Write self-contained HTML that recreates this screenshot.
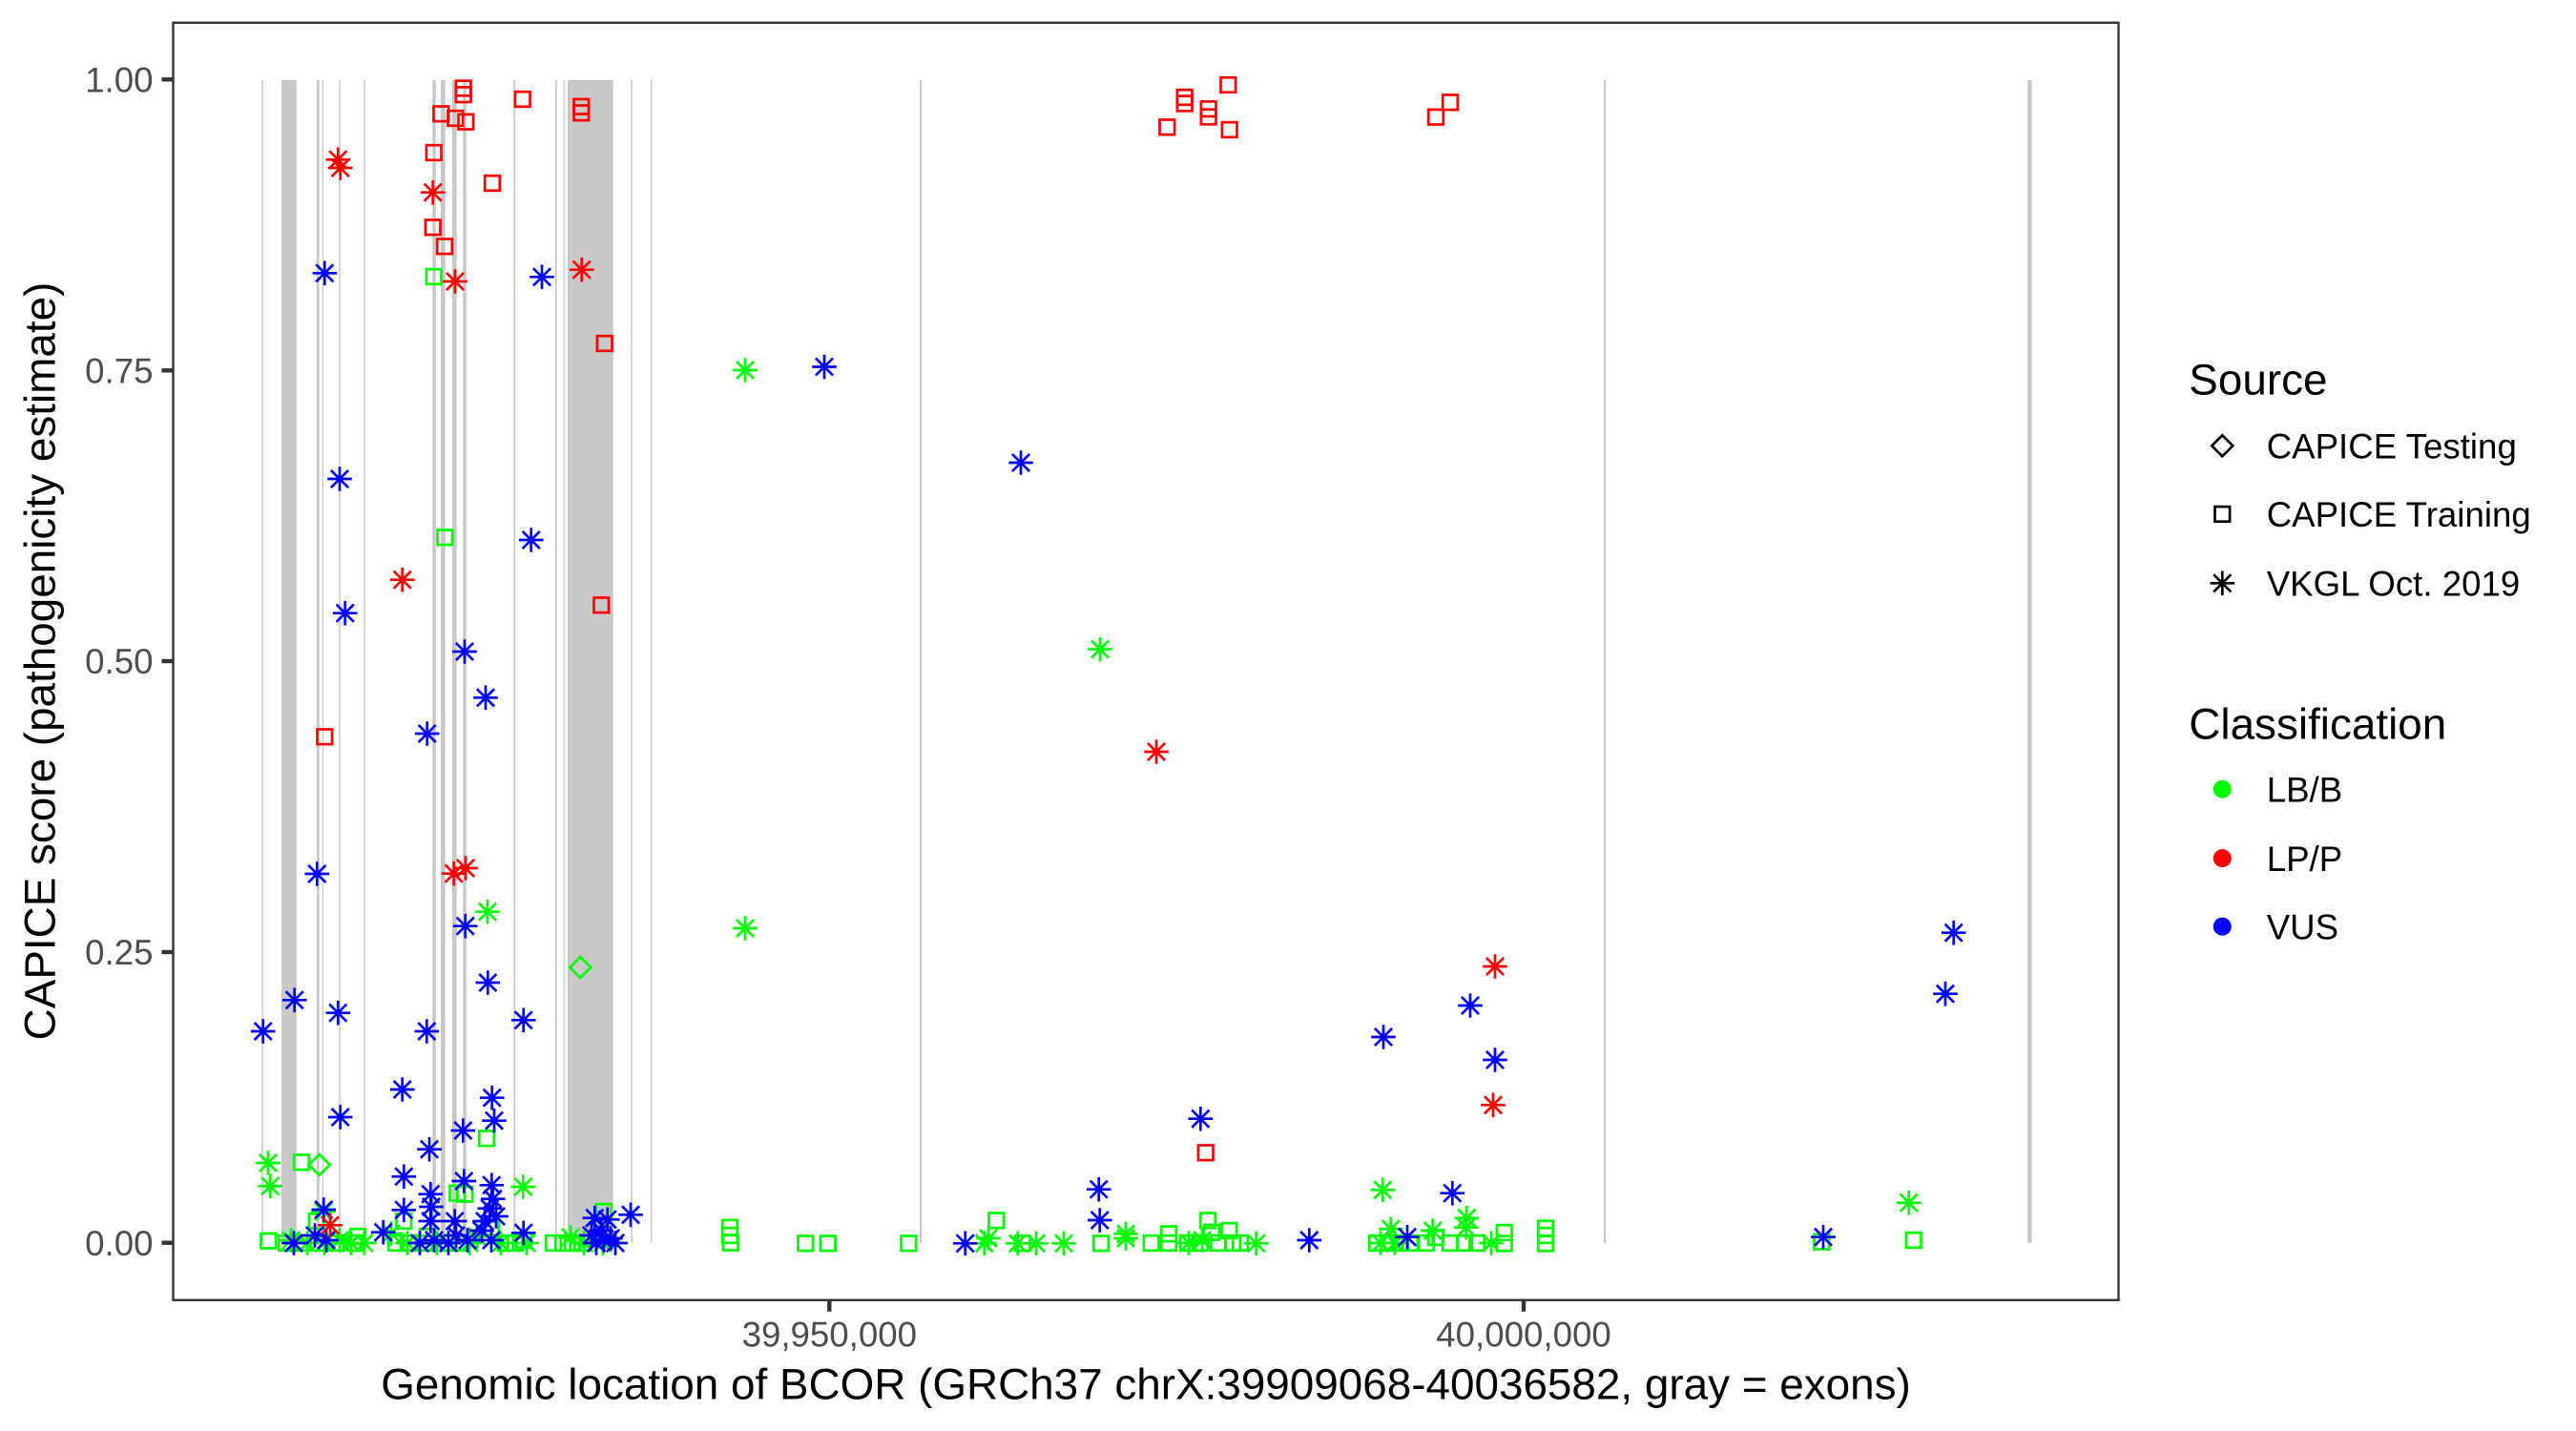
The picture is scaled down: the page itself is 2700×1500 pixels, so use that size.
<!DOCTYPE html>
<html>
<head>
<meta charset="utf-8">
<style>
html,body{margin:0;padding:0;background:#fff;}
svg{display:block;}
text{font-family:"Liberation Sans",Arial,sans-serif;}
</style>
</head>
<body>
<svg width="2700" height="1500" viewBox="0 0 2700 1500" xmlns="http://www.w3.org/2000/svg">
<defs>
<path id="a" d="M-12.8 0H12.8M0 -12.8V12.8M-9.1 -9.1L9.1 9.1M-9.1 9.1L9.1 -9.1" fill="none" stroke-width="2.7"/>
<rect id="s" x="-7.8" y="-7.8" width="15.6" height="15.6" fill="none" stroke-width="2.7"/>
<path id="d" d="M0 -11L11 0L0 11L-11 0Z" fill="none" stroke-width="2.7"/>
</defs>
<rect x="0" y="0" width="2700" height="1500" fill="#fff"/>

<!-- exons -->
<g fill="#C8C8C8">
<rect x="274.3" y="84" width="1.6" height="1218.7"/>
<rect x="295" y="84" width="15.7" height="1218.7"/>
<rect x="332" y="84" width="2.7" height="1218.7"/>
<rect x="337.7" y="84" width="1.2" height="1218.7"/>
<rect x="355.3" y="84" width="1.5" height="1218.7"/>
<rect x="381.3" y="84" width="1.5" height="1218.7"/>
<rect x="453.3" y="84" width="3.4" height="1218.7"/>
<rect x="462" y="84" width="4.7" height="1218.7"/>
<rect x="474" y="84" width="4.7" height="1218.7"/>
<rect x="485.3" y="84" width="3.4" height="1218.7"/>
<rect x="538.3" y="84" width="1.7" height="1218.7"/>
<rect x="582" y="84" width="1.7" height="1218.7"/>
<rect x="590.7" y="84" width="1.1" height="1218.7"/>
<rect x="595" y="84" width="47.7" height="1218.7"/>
<rect x="661.3" y="84" width="1.6" height="1218.7"/>
<rect x="682" y="84" width="1.4" height="1218.7"/>
<rect x="964" y="84" width="2" height="1218.7"/>
<rect x="1681" y="84" width="2" height="1218.7"/>
<rect x="2125.2" y="84" width="4.5" height="1218.7"/>
</g>

<!-- green squares -->
<g stroke="#00FF00">
<use href="#s" x="454.7" y="290"/><use href="#s" x="466.3" y="563.3"/><use href="#s" x="316" y="1218.3"/>
<use href="#s" x="510" y="1193.3"/><use href="#s" x="331.7" y="1280"/><use href="#s" x="479.3" y="1250.7"/>
<use href="#s" x="487.3" y="1251.7"/><use href="#s" x="281.3" y="1300.7"/><use href="#s" x="632.7" y="1270"/>
<use href="#s" x="423.3" y="1280"/><use href="#s" x="515" y="1286.7"/><use href="#s" x="300" y="1303"/>
<use href="#s" x="318" y="1303"/><use href="#s" x="333" y="1303"/><use href="#s" x="352" y="1303"/>
<use href="#s" x="372" y="1303"/><use href="#s" x="375" y="1296"/><use href="#s" x="415" y="1303"/>
<use href="#s" x="428" y="1303"/><use href="#s" x="445" y="1303"/><use href="#s" x="448" y="1296"/>
<use href="#s" x="470" y="1303"/><use href="#s" x="482" y="1303"/><use href="#s" x="530" y="1303"/>
<use href="#s" x="540" y="1303"/><use href="#s" x="549" y="1300"/><use href="#s" x="580" y="1303"/>
<use href="#s" x="590" y="1303"/><use href="#s" x="600" y="1303"/><use href="#s" x="610" y="1303"/>
<use href="#s" x="765" y="1286.7"/><use href="#s" x="765" y="1295"/><use href="#s" x="765.7" y="1302.7"/>
<use href="#s" x="844.3" y="1303.3"/><use href="#s" x="867.7" y="1303.3"/><use href="#s" x="952.3" y="1303.3"/>
<use href="#s" x="1044.3" y="1279.3"/><use href="#s" x="1071.7" y="1303.3"/><use href="#s" x="1154" y="1303.3"/>
<use href="#s" x="1206.7" y="1303"/><use href="#s" x="1225" y="1303"/><use href="#s" x="1225" y="1293.3"/>
<use href="#s" x="1245" y="1303"/><use href="#s" x="1258" y="1303"/><use href="#s" x="1266" y="1279.3"/>
<use href="#s" x="1270" y="1291.7"/><use href="#s" x="1277" y="1303"/><use href="#s" x="1288.3" y="1290"/>
<use href="#s" x="1292" y="1303"/><use href="#s" x="1300" y="1303"/><use href="#s" x="1443" y="1303"/>
<use href="#s" x="1455" y="1303"/><use href="#s" x="1468" y="1303"/><use href="#s" x="1478" y="1303"/>
<use href="#s" x="1495" y="1303"/><use href="#s" x="1505" y="1297"/><use href="#s" x="1520" y="1303"/>
<use href="#s" x="1535" y="1303"/><use href="#s" x="1548" y="1303"/><use href="#s" x="1576.7" y="1292"/>
<use href="#s" x="1576.7" y="1303.5"/><use href="#s" x="1620" y="1287.5"/><use href="#s" x="1620" y="1295"/>
<use href="#s" x="1620" y="1303.5"/><use href="#s" x="1909.3" y="1301.7"/><use href="#s" x="2005.7" y="1300"/>
<use href="#d" x="334.7" y="1221"/><use href="#d" x="608.3" y="1014"/>
</g>

<!-- green asterisks -->
<g stroke="#00FF00">
<use href="#a" x="781" y="388"/><use href="#a" x="1153" y="680.5"/><use href="#a" x="781" y="973"/>
<use href="#a" x="511" y="955.7"/><use href="#a" x="281" y="1219"/><use href="#a" x="283.3" y="1243.3"/>
<use href="#a" x="548.3" y="1244"/><use href="#a" x="339" y="1270"/><use href="#a" x="381.7" y="1303"/>
<use href="#a" x="410" y="1293"/><use href="#a" x="305" y="1300"/><use href="#a" x="322" y="1303"/>
<use href="#a" x="340" y="1303"/><use href="#a" x="356" y="1300"/><use href="#a" x="368" y="1303"/>
<use href="#a" x="427" y="1303"/><use href="#a" x="458" y="1303"/><use href="#a" x="492" y="1303"/>
<use href="#a" x="500" y="1296"/><use href="#a" x="525" y="1303"/><use href="#a" x="552" y="1303"/>
<use href="#a" x="598" y="1297"/><use href="#a" x="612" y="1303"/><use href="#a" x="632" y="1303"/>
<use href="#a" x="645" y="1303"/><use href="#a" x="1031.7" y="1303.3"/><use href="#a" x="1036" y="1298"/>
<use href="#a" x="1066.7" y="1303.3"/><use href="#a" x="1086" y="1303.3"/><use href="#a" x="1115" y="1303.3"/>
<use href="#a" x="1180" y="1293.3"/><use href="#a" x="1180" y="1298"/><use href="#a" x="1449.3" y="1247.3"/>
<use href="#a" x="1537.3" y="1276.7"/><use href="#a" x="1536.7" y="1286.7"/><use href="#a" x="1457.7" y="1288.3"/>
<use href="#a" x="1501.7" y="1290"/><use href="#a" x="1316.7" y="1303.3"/><use href="#a" x="1563" y="1303"/>
<use href="#a" x="1447" y="1303"/><use href="#a" x="1462" y="1303"/><use href="#a" x="2000.7" y="1260.7"/>
<use href="#a" x="1246" y="1303"/><use href="#a" x="1260" y="1300"/>
</g>

<!-- blue asterisks -->
<g stroke="#0000FF">
<use href="#a" x="340.3" y="286.3"/><use href="#a" x="568" y="290.3"/><use href="#a" x="356" y="502"/>
<use href="#a" x="556.7" y="566"/><use href="#a" x="361.7" y="642.7"/><use href="#a" x="487" y="683"/>
<use href="#a" x="509" y="731.3"/><use href="#a" x="447.7" y="769"/><use href="#a" x="332.3" y="916"/>
<use href="#a" x="487.7" y="970.7"/><use href="#a" x="511.3" y="1030"/><use href="#a" x="308.7" y="1048.3"/>
<use href="#a" x="354.3" y="1061.7"/><use href="#a" x="548.7" y="1069.3"/><use href="#a" x="275.7" y="1081"/>
<use href="#a" x="447.3" y="1081"/><use href="#a" x="421.7" y="1142"/><use href="#a" x="356.7" y="1171"/>
<use href="#a" x="515.7" y="1150.7"/><use href="#a" x="518" y="1174.7"/><use href="#a" x="485.3" y="1185"/>
<use href="#a" x="450" y="1204.7"/><use href="#a" x="423.3" y="1233.3"/><use href="#a" x="486.3" y="1238"/>
<use href="#a" x="515.3" y="1242.3"/><use href="#a" x="451.3" y="1251.7"/><use href="#a" x="423.3" y="1268.3"/>
<use href="#a" x="452" y="1265"/><use href="#a" x="513.3" y="1266.7"/><use href="#a" x="516.7" y="1256.7"/>
<use href="#a" x="451.3" y="1280"/><use href="#a" x="476.7" y="1280"/><use href="#a" x="548.7" y="1292.3"/>
<use href="#a" x="661" y="1273.3"/><use href="#a" x="623.3" y="1276.7"/><use href="#a" x="636.7" y="1278.3"/>
<use href="#a" x="401.7" y="1291.7"/><use href="#a" x="339.3" y="1268"/><use href="#a" x="620" y="1295"/>
<use href="#a" x="630" y="1290"/><use href="#a" x="640" y="1298"/><use href="#a" x="645" y="1303"/>
<use href="#a" x="625" y="1303"/><use href="#a" x="633" y="1300"/><use href="#a" x="508" y="1280"/>
<use href="#a" x="520" y="1275"/><use href="#a" x="505" y="1290"/><use href="#a" x="515" y="1300"/>
<use href="#a" x="478" y="1295"/><use href="#a" x="490" y="1300"/><use href="#a" x="470" y="1303"/>
<use href="#a" x="455" y="1300"/><use href="#a" x="440" y="1303"/><use href="#a" x="308" y="1303"/>
<use href="#a" x="342" y="1300"/><use href="#a" x="330" y="1295"/><use href="#a" x="1151.7" y="1246.7"/>
<use href="#a" x="1152.7" y="1279"/><use href="#a" x="1011.7" y="1303.3"/><use href="#a" x="864" y="384.5"/>
<use href="#a" x="1070" y="485"/><use href="#a" x="1258.3" y="1172.7"/><use href="#a" x="1475" y="1296.7"/>
<use href="#a" x="1522.3" y="1250.7"/><use href="#a" x="1372.3" y="1300"/><use href="#a" x="1450" y="1087"/>
<use href="#a" x="1541" y="1054"/><use href="#a" x="1567" y="1111"/><use href="#a" x="1911" y="1296.7"/>
<use href="#a" x="2047.7" y="977.7"/><use href="#a" x="2039" y="1041.7"/>
</g>

<!-- red -->
<g stroke="#FF0000">
<use href="#a" x="354.3" y="167.3"/><use href="#a" x="356.7" y="176"/><use href="#a" x="453.7" y="201.7"/>
<use href="#a" x="477" y="295"/><use href="#a" x="609.7" y="282.7"/><use href="#a" x="421.7" y="607.7"/>
<use href="#a" x="475.7" y="915.7"/><use href="#a" x="488" y="910"/><use href="#a" x="346" y="1284.3"/>
<use href="#a" x="1212" y="788"/><use href="#a" x="1565" y="1158.3"/><use href="#a" x="1567" y="1013"/>
<use href="#s" x="485.7" y="92.5"/><use href="#s" x="485.7" y="99.2"/><use href="#s" x="462.3" y="119.3"/>
<use href="#s" x="477.3" y="124"/><use href="#s" x="488.3" y="127.7"/><use href="#s" x="547.7" y="104"/>
<use href="#s" x="609.3" y="111.7"/><use href="#s" x="609.3" y="118.3"/><use href="#s" x="454.7" y="160"/>
<use href="#s" x="516" y="192"/><use href="#s" x="453.7" y="238.3"/><use href="#s" x="466" y="258.3"/>
<use href="#s" x="633.7" y="360"/><use href="#s" x="630.3" y="634.3"/><use href="#s" x="340.3" y="772.3"/>
<use href="#s" x="1263.7" y="1208.3"/><use href="#s" x="1223.3" y="133.3"/><use href="#s" x="1241.7" y="102"/>
<use href="#s" x="1241.7" y="108.5"/><use href="#s" x="1266.7" y="114.2"/><use href="#s" x="1266.7" y="122.5"/>
<use href="#s" x="1287.3" y="89"/><use href="#s" x="1288.7" y="136"/><use href="#s" x="1505" y="122.7"/>
<use href="#s" x="1520" y="107.3"/>
</g>

<!-- panel border -->
<rect x="181.5" y="23.8" width="2039" height="1339" fill="none" stroke="#333333" stroke-width="2.4"/>

<!-- ticks -->
<g stroke="#333333" stroke-width="4.4">
<line x1="169.5" y1="83.3" x2="181" y2="83.3"/>
<line x1="169.5" y1="388.3" x2="181" y2="388.3"/>
<line x1="169.5" y1="693" x2="181" y2="693"/>
<line x1="169.5" y1="998" x2="181" y2="998"/>
<line x1="169.5" y1="1302.7" x2="181" y2="1302.7"/>
<line x1="869.3" y1="1363" x2="869.3" y2="1374.8"/>
<line x1="1597" y1="1363" x2="1597" y2="1374.8"/>
</g>

<!-- tick labels -->
<g fill="#4D4D4D" font-size="36.67" text-anchor="end">
<text x="160.5" y="96.5">1.00</text>
<text x="160.5" y="401.5">0.75</text>
<text x="160.5" y="706.2">0.50</text>
<text x="160.5" y="1011.2">0.25</text>
<text x="160.5" y="1315.9">0.00</text>
</g>
<g fill="#4D4D4D" font-size="36.67" text-anchor="middle">
<text x="869.3" y="1411.5">39,950,000</text>
<text x="1597" y="1411.5">40,000,000</text>
</g>

<!-- axis titles -->
<text x="1201" y="1466.7" font-size="45.83" text-anchor="middle" fill="#000">Genomic location of BCOR (GRCh37 chrX:39909068-40036582, gray = exons)</text>
<text transform="translate(57.5,693) rotate(-90)" font-size="45.83" text-anchor="middle" fill="#000">CAPICE score (pathogenicity estimate)</text>

<!-- legend -->
<text x="2294.3" y="413.5" font-size="45.83" fill="#000">Source</text>
<g stroke="#000">
<use href="#d" x="2329.3" y="467.3"/>
<use href="#s" x="2329.3" y="538.9"/>
<use href="#a" x="2329.3" y="611.3"/>
</g>
<g font-size="36.67" fill="#000">
<text x="2375.7" y="480.6">CAPICE Testing</text>
<text x="2375.7" y="552.2">CAPICE Training</text>
<text x="2375.7" y="624.6">VKGL Oct. 2019</text>
</g>
<text x="2294.3" y="774.6" font-size="45.83" fill="#000">Classification</text>
<circle cx="2329.3" cy="827.2" r="9.5" fill="#00FF00"/>
<circle cx="2329.3" cy="899.6" r="9.5" fill="#FF0000"/>
<circle cx="2329.3" cy="971.2" r="9.5" fill="#0000FF"/>
<g font-size="36.67" fill="#000">
<text x="2375.7" y="840.4">LB/B</text>
<text x="2375.7" y="912.8">LP/P</text>
<text x="2375.7" y="984.4">VUS</text>
</g>
</svg>
</body>
</html>
